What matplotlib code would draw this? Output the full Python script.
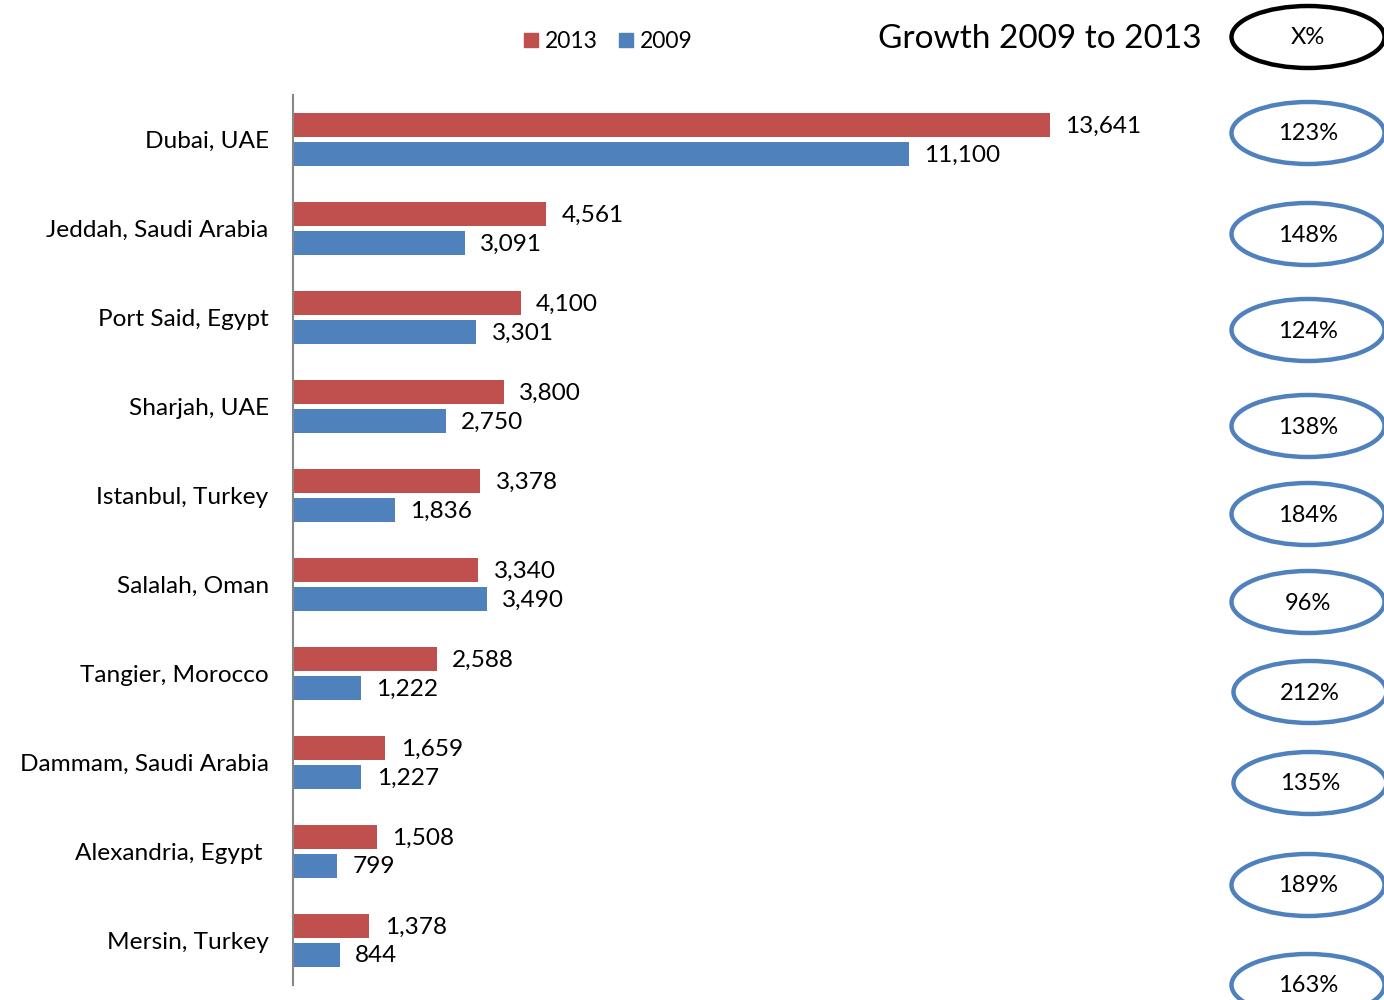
import numpy as np
import matplotlib
matplotlib.use("Agg")
import matplotlib.pyplot as plt
from matplotlib.patches import Ellipse

plt.rcParams["font.family"] = ["Lato", "DejaVu Sans"]

ports = ["Dubai, UAE", "Jeddah, Saudi Arabia", "Port Said, Egypt", "Sharjah, UAE",
         "Istanbul, Turkey", "Salalah, Oman", "Tangier, Morocco",
         "Dammam, Saudi Arabia", "Alexandria, Egypt ", "Mersin, Turkey"]
teu_2013 = [13641, 4561, 4100, 3800, 3378, 3340, 2588, 1659, 1508, 1378]
teu_2009 = [11100, 3091, 3301, 2750, 1836, 3490, 1222, 1227, 799, 844]

RED, BLUE = "#C0504D", "#4F81BD"
W, H = 1384, 1000
FS = 17.6

fig = plt.figure(figsize=(W / 100, H / 100), dpi=100)
ax = fig.add_axes([293 / W, 1 - 985 / H, (1200 - 293) / W, 890 / H])

y = np.arange(len(ports))
off, h = 0.163, 0.26
ax.barh(y - off, teu_2013, h, color=RED)
ax.barh(y + off, teu_2009, h, color=BLUE)
for yi, a, b in zip(y, teu_2013, teu_2009):
    ax.text(a + 280, yi - off + 0.01, f"{a:,}", va="center", ha="left", fontsize=FS)
    ax.text(b + 280, yi + off + 0.01, f"{b:,}", va="center", ha="left", fontsize=FS)

ax.set_ylim(len(ports) - 0.5, -0.5)
ax.set_xlim(0, 16345)
ax.set_yticks(y)
ax.set_yticklabels(ports, fontsize=FS)
ax.tick_params(axis="y", length=0, pad=17.5)
ax.set_xticks([])
for s in ["top", "right", "bottom"]:
    ax.spines[s].set_visible(False)
ax.spines["left"].set_color("#868686")
ax.spines["left"].set_linewidth(1.5)

# legend squares and labels
for x0, col, lab in [(524, RED, "2013"), (619, BLUE, "2009")]:
    fig.patches.append(plt.Rectangle((x0 / W, 1 - 47 / H), 14 / W, 14 / H,
                                     color=col, transform=fig.transFigure))
    fig.text((x0 + 21) / W, 1 - 41 / H, lab, va="center", ha="left", fontsize=16.5)

fig.text(1040 / W, 1 - 39 / H, "Growth 2009 to 2013", ha="center", va="center", fontsize=24)

# growth badges on the right
growth = [f"{round(a / b * 100)}%" for a, b in zip(teu_2013, teu_2009)]
badge_x = [1308, 1308, 1308, 1308, 1308, 1308, 1310, 1310, 1308, 1308]
badge_y = [133, 234, 330, 426, 514, 602, 692, 783, 885, 985]


def badge(cx, cy, txt, col):
    e = Ellipse((cx, H - cy), 153, 62, fill=False, edgecolor=col, lw=3.2,
                transform=None)
    fig.patches.append(e)
    fig.text(cx / W, 1 - (cy + 1) / H, txt, ha="center", va="center", fontsize=17)


badge(1308, 37, "X%", "black")
for cx, cy, g in zip(badge_x, badge_y, growth):
    badge(cx, cy, g, BLUE)

fig.savefig("out.png", dpi=100)
